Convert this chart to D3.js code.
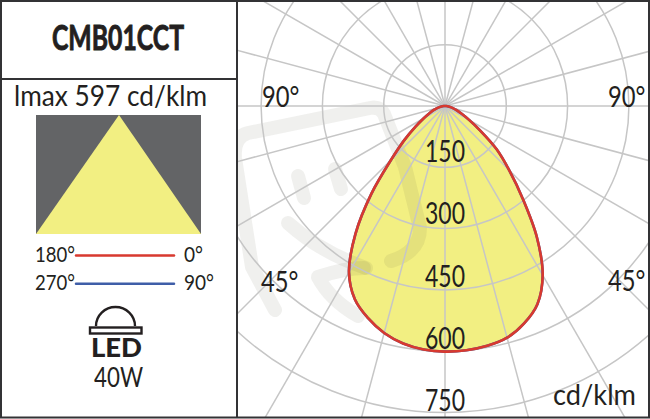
<!DOCTYPE html>
<html><head><meta charset="utf-8">
<script src="https://cdn.jsdelivr.net/npm/d3@7"></script>
<style>html,body{margin:0;padding:0;background:#fff}svg{display:block}text{font-family:Lato,Roboto,sans-serif;fill:#231f20}</style>
</head><body><svg id="c" width="650" height="419"></svg>
<script>
const title = "CMB01CCT";
const imaxLabel = "lmax 597 cd/klm";
const ringValues = [150, 300, 450, 600, 750];
const ringLabels = ["150", "300", "450", "600", "750"];
const spokeAngles = d3.range(0, 360, 15);
const curveAngles = [0, 5, 10, 15, 20, 25, 30, 35, 40, 45, 50, 55, 60, 65, 70, 75, 80, 90];
const leftValues  = [601, 598, 590, 575, 552, 522, 470, 382, 280, 187, 130, 88, 60, 42, 30, 20, 11, 3];
const rightValues = [601, 600, 596, 587, 566, 535, 478, 392, 296, 222, 165, 106, 68, 45, 30, 20, 11, 3];
const angleLabels = [["90°", 262, 107], ["90°", 608, 107], ["45°", 261, 292], ["45°", 608, 291]];

const svg = d3.select("#c");
const cx = 445, cy = 106;
const r = d3.scaleLinear().domain([0, 750]).range([0, 306.5]);
const labelY = d3.scaleLinear().domain([150, 750]).range([162, 411]);
const grid = "#c6c6c6", border = "#333335", yellow = "#f2ef82", red = "#d8392f", blue = "#3f5ea8", grey = "#636466";

svg.append("defs").append("clipPath").attr("id", "clip").append("rect").attr("x", 238).attr("y", 2).attr("width", 410).attr("height", 415);
const plot = svg.append("g").attr("clip-path", "url(#clip)");

const toXY = d => { const t = d[0] * Math.PI / 180; return [cx + r(d[1]) * Math.sin(t), cy + r(d[1]) * Math.cos(t)]; };
const curvePts = curveAngles.map((a, i) => [a, rightValues[i]]).concat(curveAngles.slice(1).reverse().map(a => [-a, leftValues[curveAngles.indexOf(a)]]));
const path = d3.line().curve(d3.curveCatmullRomClosed.alpha(0.5));
const xy = curvePts.map(toXY);

plot.append("path").attr("d", path(xy)).attr("fill", yellow);

// faint watermark
const wm = plot.append("g").attr("fill", "none").attr("stroke", "#5a5a40").attr("stroke-opacity", 0.09).attr("stroke-linecap", "round").attr("stroke-linejoin", "round").attr("stroke-width", 14);
wm.append("path").attr("d", "M391 261 Q420 252 420 228 L405 167 L384 114 Q380 106 370 108 L248 133 Q233 137 235 158 L252 267 L275 310");
wm.append("path").attr("d", "M298 176 L304 198 M335 169 L341 189");
wm.append("path").attr("d", "M288 223 Q320 252 366 268");
wm.append("path").attr("d", "M318 277 Q345 268 364 268 M318 277 Q330 300 358 316");

plot.selectAll("circle.ring").data(ringValues).join("circle").attr("class", "ring")
  .attr("cx", cx).attr("cy", cy).attr("r", d => r(d)).attr("fill", "none").attr("stroke", grid).attr("stroke-width", 1.5);
plot.selectAll("line.spoke").data(spokeAngles).join("line").attr("class", "spoke")
  .attr("x1", cx).attr("y1", cy)
  .attr("x2", d => cx + 600 * Math.sin(d * Math.PI / 180))
  .attr("y2", d => cy + 600 * Math.cos(d * Math.PI / 180))
  .attr("stroke", grid).attr("stroke-width", 1.5);

plot.append("path").attr("d", path(xy)).attr("fill", "none").attr("stroke", blue).attr("stroke-width", 2.6);
plot.append("path").attr("d", path(xy)).attr("fill", "none").attr("stroke", red).attr("stroke-width", 2.6);

svg.selectAll("text.rl").data(ringValues).join("text").attr("class", "rl")
  .attr("x", cx - 20).attr("y", d => labelY(d))
  .attr("font-size", 30).attr("textLength", 40).attr("lengthAdjust", "spacingAndGlyphs")
  .text((d, i) => ringLabels[i]);
svg.selectAll("text.al").data(angleLabels).join("text").attr("class", "al")
  .attr("transform", d => `translate(${d[1]},${d[2]}) scale(0.82,1)`)
  .attr("font-size", 29).text(d => d[0]);
svg.append("text").attr("x", 553).attr("y", 405).attr("font-size", 28)
  .attr("textLength", 83).attr("lengthAdjust", "spacingAndGlyphs").text("cd/klm");

// frame
const f = svg.append("g").attr("stroke", border).attr("stroke-width", 2).attr("fill", "none");
f.append("rect").attr("x", 1).attr("y", 1).attr("width", 648).attr("height", 416.5);
f.append("line").attr("x1", 237).attr("x2", 237).attr("y1", 1).attr("y2", 418);
f.append("line").attr("x1", 1).attr("x2", 237).attr("y1", 79).attr("y2", 79);

// left panel
svg.append("text").attr("x", 52).attr("y", 50).attr("font-size", 34).attr("font-weight", 700)
  .attr("stroke", "#231f20").attr("stroke-width", 0.9)
  .attr("textLength", 132).attr("lengthAdjust", "spacingAndGlyphs").text(title);
svg.append("text").attr("x", 14).attr("y", 106).attr("font-size", 28)
  .attr("textLength", 193).attr("lengthAdjust", "spacingAndGlyphs").text(imaxLabel);
svg.append("rect").attr("x", 36).attr("y", 115).attr("width", 165).attr("height", 119).attr("fill", grey);
svg.append("path").attr("d", d3.line()([[119, 115], [201, 234], [36, 234]]) + "Z").attr("fill", yellow);

const legend = [["180°", "0°", red, 255.5, 19], ["270°", "90°", blue, 283.7, 30]];
legend.forEach(l => {
  svg.append("text").attr("x", 35).attr("y", l[3] + 6.5).attr("font-size", 22)
    .attr("textLength", 40).attr("lengthAdjust", "spacingAndGlyphs").text(l[0]);
  svg.append("line").attr("x1", 76).attr("x2", 174).attr("y1", l[3]).attr("y2", l[3]).attr("stroke", l[2]).attr("stroke-width", 2.5).attr("stroke-linecap", "round");
  svg.append("text").attr("x", 184).attr("y", l[3] + 6.5).attr("font-size", 22)
    .attr("textLength", l[4]).attr("lengthAdjust", "spacingAndGlyphs").text(l[1]);
});

// LED icon
const ic = svg.append("g");
ic.append("path").attr("d", "M96 326 A19.5 19 0 0 1 135 326").attr("fill", "none").attr("stroke", "#231f20").attr("stroke-width", 2.4);
ic.append("rect").attr("x", 90).attr("y", 327.5).attr("width", 51.5).attr("height", 6).attr("fill", "#fff").attr("stroke", "#231f20").attr("stroke-width", 2.4);
svg.append("text").attr("x", 91).attr("y", 357).attr("font-size", 27).attr("font-weight", 900)
  .attr("textLength", 51).attr("lengthAdjust", "spacingAndGlyphs").text("LED");
svg.append("text").attr("x", 94).attr("y", 387).attr("font-size", 26)
  .attr("textLength", 49).attr("lengthAdjust", "spacingAndGlyphs").text("40W");
</script></body></html>
